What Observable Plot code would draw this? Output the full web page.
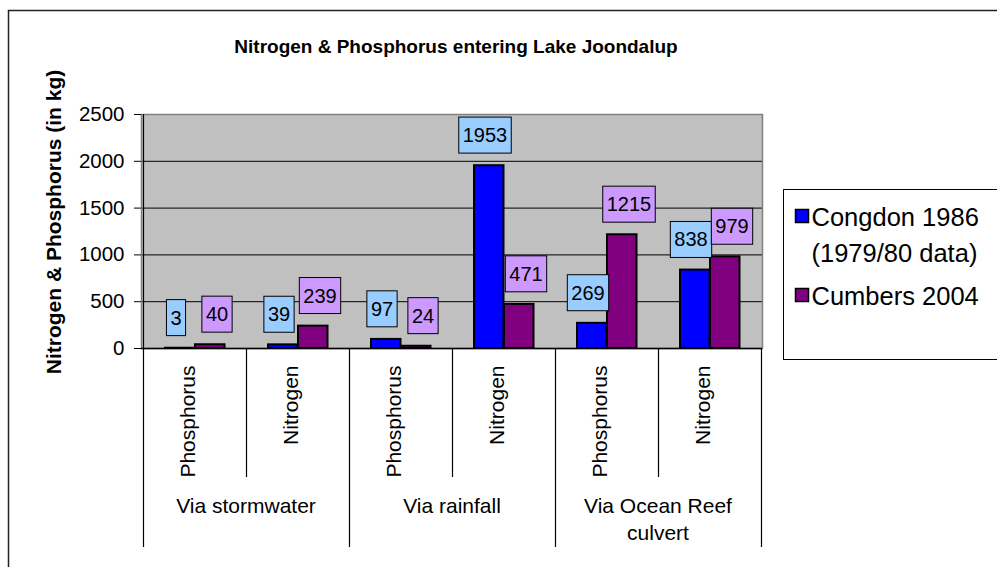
<!DOCTYPE html>
<html><head><meta charset="utf-8">
<script src="https://cdn.jsdelivr.net/npm/d3@7"></script>
<script src="https://cdn.jsdelivr.net/npm/@observablehq/plot@0.6"></script>
<style>
html,body{margin:0;padding:0;background:#fff;overflow:hidden;}
</style>
</head><body><div id="chart"></div>
<script>
// ---- data ----
const chartTitle = "Nitrogen & Phosphorus entering Lake Joondalup";
const yTitle = "Nitrogen & Phosphorus (in kg)";
const groups = ["Via stormwater", "Via rainfall", "Via Ocean Reef\nculvert"];
const nutrients = ["Phosphorus", "Nitrogen"];
const seriesNames = ["Congdon 1986\n(1979/80 data)", "Cumbers 2004"];
const congdon = [3, 39, 97, 1953, 269, 838];
const cumbers = [40, 239, 24, 471, 1215, 979];
const yTicks = [0, 500, 1000, 1500, 2000, 2500];

// ---- styles ----
const barColors = ["#0000FF", "#800080"];
const labelColors = ["#99CCFF", "#CC99FF"];
const font = "'Liberation Sans', Arial, Helvetica, sans-serif";

const cats = [];
groups.forEach(g => nutrients.forEach(n => cats.push({key: g + "|" + n, group: g, nutrient: n})));
const rows = [];
[congdon, cumbers].forEach((vals, s) => vals.forEach((v, i) => rows.push({key: cats[i].key, series: s, value: v})));

const W = 997, H = 567;
const chart = Plot.plot({
  width: W, height: H,
  marginLeft: 141, marginRight: 235, marginTop: 114, marginBottom: 219,
  style: {fontFamily: font, fontSize: "20px", color: "#000", background: "#fff", overflow: "visible"},
  x: {type: "band", domain: cats.map(d => d.key), padding: 0, axis: null},
  y: {domain: [yTicks[0], yTicks[yTicks.length - 1]]},
  marks: [
    Plot.frame({fill: "#C0C0C0"}),
    Plot.ruleY(yTicks.filter((t, i) => i > 0 && i < yTicks.length - 1), {stroke: "#000", strokeWidth: 1}),
    Plot.frame({stroke: "#808080", strokeWidth: 1.5}),
    Plot.axisY({ticks: yTicks, tickFormat: d => String(d), tickSize: 7, tickPadding: 10, fontSize: 20.5,
      label: null, stroke: "#000", fill: "#000"}),
    Plot.ruleY([yTicks[0]], {stroke: "#000", strokeWidth: 1.5}),
    ...[0, 1].map(s => Plot.barY(rows.filter(r => r.series === s), {
      x: "key", y: "value", fill: barColors[s], stroke: "#000", strokeWidth: 2,
      insetLeft: s ? 52 : 22, insetRight: s ? 21.5 : 51.5
    })),
    ...[0, 1].map(s => Plot.text(rows.filter(r => r.series === s), {
      x: "key", y: "value", text: d => String(d.value), dy: -30, dx: s ? 22 : -19,
      fontSize: 20, fill: "#000", className: "lbl" + s
    })),
    Plot.text(cats, {x: "key", text: "nutrient", frameAnchor: "bottom", dy: 17, rotate: -90,
      textAnchor: "end", fontSize: 21, fill: "#000"})
  ]
});
document.getElementById("chart").appendChild(chart);

const svg = d3.select(chart);
const xs = chart.scale("x"), ys = chart.scale("y");
const bw = xs.bandwidth;
const keys = cats.map(d => d.key);
const yBottom = ys.apply(yTicks[0]), yTop = ys.apply(yTicks[yTicks.length - 1]);

// label boxes around data labels
[0, 1].forEach(s => {
  svg.selectAll(`g.lbl${s} text`).each(function () {
    const node = this;
    const bb = node.getBBox();
    d3.select(node.parentNode).insert("rect", () => node)
      .attr("transform", node.getAttribute("transform"))
      .attr("x", bb.x - 4).attr("y", bb.y - 7)
      .attr("width", bb.width + 8).attr("height", bb.height + 14)
      .attr("fill", labelColors[s]).attr("stroke", "#000").attr("stroke-width", 1);
  });
});

const deco = svg.append("g").attr("text-anchor", "start");
// category table lines
for (let i = 0; i <= keys.length; i++) {
  const x = Math.round(i < keys.length ? xs.apply(keys[i]) : xs.apply(keys[keys.length - 1]) + bw) + 0.5;
  const isGroup = i % nutrients.length === 0;
  deco.append("line")
    .attr("x1", x).attr("x2", x)
    .attr("y1", i === 0 ? yTop : yBottom)
    .attr("y2", yBottom + (isGroup ? 199 : 129))
    .attr("stroke", "#000").attr("stroke-width", 1.2);
}
// group labels
groups.forEach((g, gi) => {
  const cx = xs.apply(keys[gi * nutrients.length]) + bw * nutrients.length / 2;
  const t = deco.append("text").attr("text-anchor", "middle")
    .attr("font-family", font).attr("font-size", 21).attr("fill", "#000");
  g.split("\n").forEach((line, li) => {
    t.append("tspan").attr("x", cx).attr("y", yBottom + 165 + li * 27).text(line);
  });
});

// chart title
deco.append("text").attr("x", 456).attr("y", 53).attr("text-anchor", "middle")
  .attr("font-family", font).attr("font-size", 19).attr("font-weight", "bold").attr("fill", "#000")
  .text(chartTitle);
// y title
deco.append("text").attr("transform", "translate(61,222) rotate(-90)").attr("text-anchor", "middle")
  .attr("font-family", font).attr("font-size", 21).attr("font-weight", "bold").attr("fill", "#000")
  .text(yTitle);

// legend
const lg = deco.append("g").attr("text-anchor", "start");
lg.append("rect").attr("x", 783.5).attr("y", 189.5).attr("width", 300).attr("height", 170)
  .attr("fill", "#fff").attr("stroke", "#000").attr("stroke-width", 1);
const entryY = [209, 288];
seriesNames.forEach((name, s) => {
  lg.append("rect").attr("x", 795.5).attr("y", entryY[s] + 0.5).attr("width", 13).attr("height", 13)
    .attr("fill", barColors[s]).attr("stroke", "#000").attr("stroke-width", 1.5);
  const t = lg.append("text").attr("text-anchor", "start")
    .attr("font-family", font).attr("font-size", 25.5).attr("fill", "#000");
  name.split("\n").forEach((line, li) => {
    t.append("tspan").attr("x", 811.5).attr("y", entryY[s] + 17 + li * 36).text(line);
  });
});

// outer chart border
deco.append("path").attr("d", "M8.5,567V10.5H997").attr("fill", "none")
  .attr("stroke", "#222").attr("stroke-width", 1.5);
</script>
</body></html>
